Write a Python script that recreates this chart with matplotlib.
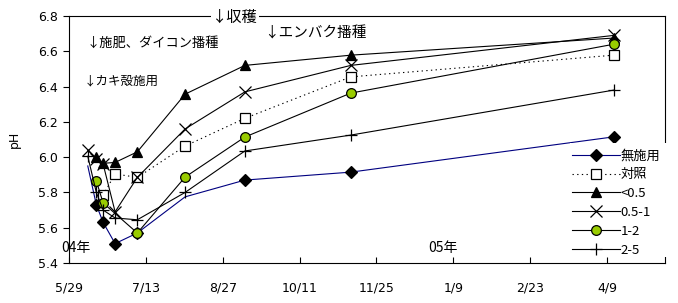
import numpy as np
import pandas as pd
import matplotlib
matplotlib.use("Agg")
import matplotlib.pyplot as plt
from matplotlib.patches import Rectangle

plt.rcParams['font.family'] = ['DejaVu Sans', 'Noto Sans CJK JP']

# sampling dates (all series share these, NaN = no sample)
dates = pd.to_datetime(["2004-06-09", "2004-06-14", "2004-06-18", "2004-06-25",
                        "2004-07-08", "2004-08-05", "2004-09-09", "2004-11-10",
                        "2005-04-13"])

nan = np.nan
mushiyo = [5.95, 5.73, 5.63, 5.51, 5.57, 5.775, 5.87, 5.915, 6.115]
taisho = [nan, nan, 5.785, 5.905, 5.885, 6.063, 6.22, 6.455, 6.578]
lt05 = [nan, 6.00, 5.965, 5.97, 6.03, 6.357, 6.52, 6.578, 6.675]
r05_1 = [6.04, 5.99, 5.96, 5.69, 5.885, 6.16, 6.37, 6.52, 6.69]
r1_2 = [nan, 5.865, 5.74, nan, 5.57, 5.887, 6.114, 6.363, 6.64]
r2_5 = [6.005, 5.80, 5.70, 5.655, 5.645, 5.80, 6.035, 6.125, 6.38]

labels = ["無施用", "対照", "<0.5", "0.5-1", "1-2", "2-5"]
tick_dates = pd.date_range("2004-05-29", periods=8, freq="45D")

fig = plt.figure(figsize=(6.78, 3.03), dpi=100)
ax = fig.add_axes([69 / 678, 40 / 303, 596 / 678, 247 / 303])

styles = [
    dict(color="#000080", ls="-", marker="D", ms=6.5, mfc="black", mec="black"),
    dict(color="black", ls=(0, (1.2, 3)), marker="s", ms=7.5, mfc="white", mec="black"),
    dict(color="black", ls="-", marker="^", ms=7, mfc="black", mec="black"),
    dict(color="black", ls="-", marker="x", ms=8, mfc="black", mec="black"),
    dict(color="black", ls="-", marker="o", ms=7, mfc="#99CC00", mec="black"),
    dict(color="black", ls="-", marker="+", ms=9, mfc="black", mec="black"),
]
series = [mushiyo, taisho, lt05, r05_1, r1_2, r2_5]

for i, (vals, st, lab) in enumerate(zip(series, styles, labels)):
    v = np.array(vals, dtype=float)
    ok = ~np.isnan(v)
    d = dates[ok]
    v = v[ok]
    mk = None
    if i == 0:
        mk = [1, 2, 3, 4, 6, 7, 8]  # first and 8/5 markers not visible
    ax.plot(d, v, lw=0.8, label=lab, markevery=mk, mew=0.9, zorder=3 + i, **st)

ax.set_ylim(5.4, 6.8)
ax.set_yticks(np.arange(5.4, 6.81, 0.2))
ax.set_yticklabels([f"{t:.1f}" for t in np.arange(5.4, 6.81, 0.2)])
ax.set_xlim(pd.Timestamp("2004-05-29"), pd.Timestamp("2005-05-13"))
ax.set_xticks(tick_dates)
ax.set_xticklabels([f"{t.month}/{t.day}" for t in tick_dates])
ax.tick_params(axis="x", direction="in", length=4, pad=13, labelsize=9)
ax.tick_params(axis="y", direction="out", length=4, pad=4, labelsize=9)
for s in ax.spines.values():
    s.set_linewidth(0.8)
ax.set_ylabel("pH", fontsize=9, labelpad=12)

# white area behind legend hides the right frame
ax.add_patch(Rectangle((0.8406, 0.0243), 0.19, 0.46, transform=ax.transAxes,
                       facecolor="white", edgecolor="none", clip_on=False, zorder=10))
leg = ax.legend(loc="upper left", bbox_to_anchor=(572 / 678, 1 - 149.5 / 303),
                bbox_transform=fig.transFigure, frameon=False, borderpad=0,
                borderaxespad=0, handlelength=3.6, handletextpad=0.1,
                labelspacing=0.44, prop={"family": "Noto Sans CJK JP", "size": 9.5})
leg.set_zorder(11)

def ftext(x, y, s, size, **kw):
    fig.text(x / 678, 1 - y / 303, s, fontsize=size, va="center", ha="left",
             family=["Noto Sans CJK JP", "DejaVu Sans"], **kw)

ftext(212, 17, "↓収穫", 11, bbox=dict(facecolor="white", edgecolor="none", pad=1))
ftext(86, 43, "↓施肥、ダイコン播種", 9.5)
ftext(264, 33, "↓エンバク播種", 10.5)
ftext(84, 81, "↓カキ殻施用", 9)
ftext(61, 248, "04年", 10)
ftext(428, 248, "05年", 10)

fig.savefig("out.png", dpi=100)
